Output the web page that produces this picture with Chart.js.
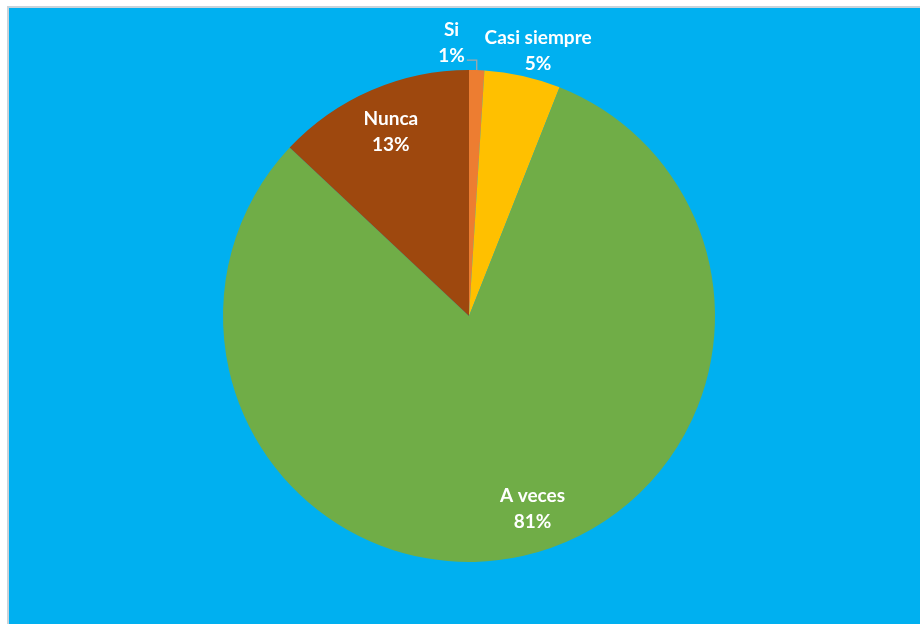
<!DOCTYPE html>
<html>
<head>
<meta charset="utf-8">
<script src="https://cdn.jsdelivr.net/npm/chart.js@4/dist/chart.umd.min.js"></script>
<style>
  html, body { margin: 0; padding: 0; background: #ffffff; width: 920px; height: 624px; overflow: hidden; }
  #frame {
    position: absolute; left: 7px; top: 6px; width: 913px; height: 618px;
    border-left: 2px solid #c9d3da; border-top: 2px solid #c9d3da;
    background: #00b0f0;
  }
  #wrap { position: absolute; left: 0; top: 0; width: 911px; height: 616px; }
</style>
</head>
<body>
<div id="frame"><div id="wrap"><canvas id="pie"></canvas></div></div>
<script>
// Survey answers and their shares (percent)
const categories = ['Si', 'Casi siempre', 'A veces', 'Nunca'];
const shares = [1, 5, 81, 13];
const sliceColors = ['#ED7D31', '#FFC000', '#70AD47', '#9E480E'];

// Where each slice's label sits: inside the slice or outside with a nudge
const labelPlacement = [
  { dist: 1.11, dx: -26, dy: 0, leader: true },
  { dist: 1.12, dx: 9, dy: 4, leader: false },
  { dist: 0.81, dx: 20, dy: -2, leader: false },
  { dist: 0.82, dx: 2, dy: 1, leader: false }
];

const sliceLabels = {
  id: 'sliceLabels',
  afterDatasetsDraw(chart) {
    const ctx = chart.ctx;
    const meta = chart.getDatasetMeta(0);
    ctx.save();
    ctx.font = 'bold 19px Lato, "Open Sans", sans-serif';
    ctx.fillStyle = '#ffffff';
    ctx.textAlign = 'center';
    ctx.textBaseline = 'middle';
    meta.data.forEach((arc, i) => {
      const p = arc.getProps(['x', 'y', 'startAngle', 'endAngle', 'outerRadius'], true);
      const mid = (p.startAngle + p.endAngle) / 2;
      const place = labelPlacement[i];
      const r = p.outerRadius * place.dist;
      const cx = p.x + Math.cos(mid) * r + place.dx;
      const cy = p.y + Math.sin(mid) * r + place.dy;
      const lineH = 26;
      ctx.fillText(categories[i], cx, cy - lineH / 2);
      ctx.fillText(shares[i] + '%', cx, cy + lineH / 2);
      if (place.leader) {
        // elbow line from the label to the slice edge
        const pctW = ctx.measureText(shares[i] + '%').width;
        const ex = p.x + Math.cos(mid) * p.outerRadius;
        const ey = p.y + Math.sin(mid) * p.outerRadius;
        const sx = cx + pctW / 2 + 2;
        const sy = cy + lineH / 2 + 4;
        ctx.strokeStyle = '#a6a6a6';
        ctx.lineWidth = 1.3;
        ctx.beginPath();
        ctx.moveTo(sx, sy);
        ctx.lineTo(ex, sy);
        ctx.lineTo(ex, ey);
        ctx.stroke();
      }
    });
    ctx.restore();
  }
};

new Chart(document.getElementById('pie'), {
  type: 'pie',
  data: {
    labels: categories,
    datasets: [{
      data: shares,
      backgroundColor: sliceColors,
      borderWidth: 0
    }]
  },
  options: {
    responsive: true,
    maintainAspectRatio: false,
    animation: false,
    layout: { padding: { left: 9, right: 0, top: 62, bottom: 62 } },
    plugins: {
      legend: { display: false },
      tooltip: { enabled: false }
    }
  },
  plugins: [sliceLabels]
});
</script>
</body>
</html>
